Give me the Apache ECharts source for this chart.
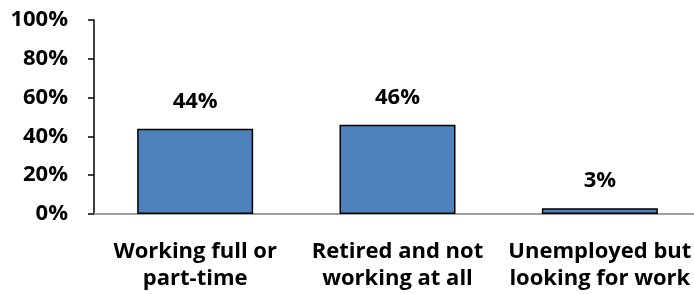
<!DOCTYPE html>
<html>
<head>
<meta charset="utf-8">
<script src="https://cdn.jsdelivr.net/npm/echarts@6/dist/echarts.min.js"></script>
<style>
html,body{margin:0;padding:0;background:#fff;}
#chart{width:694px;height:294px;}
</style>
</head>
<body>
<div id="chart"></div>
<script>
const categories = ['Working full or\npart-time', 'Retired and not\nworking at all', 'Unemployed but\nlooking for work'];
const values = [44, 46, 3];
const yTicks = [0, 20, 40, 60, 80, 100];

const FONT = '"Open Sans", "Liberation Sans", sans-serif';
const chart = echarts.init(document.getElementById('chart'), null, {renderer: 'canvas'});
chart.setOption({
  animation: false,
  grid: {left: 94, width: 607, top: 20, bottom: 80, containLabel: false, outerBoundsMode: 'none'},
  xAxis: {
    type: 'category',
    data: categories,
    axisLine: {lineStyle: {color: '#a0a0a0', width: 2}},
    axisTick: {show: false},
    axisLabel: {
      interval: 0,
      color: '#000',
      fontFamily: FONT,
      fontWeight: 'bold',
      fontSize: 22,
      lineHeight: 27,
      margin: 24
    }
  },
  yAxis: {
    type: 'value',
    min: yTicks[0],
    max: yTicks[yTicks.length - 1],
    interval: 20,
    splitLine: {show: false},
    axisLine: {show: true, lineStyle: {color: '#000', width: 1.5}},
    axisTick: {show: true, length: 6, lineStyle: {color: '#000', width: 1.5}},
    axisLabel: {
      color: '#000',
      fontFamily: FONT,
      fontWeight: 'bold',
      fontSize: 22,
      margin: 26,
      formatter: v => v + '%'
    }
  },
  series: [{
    type: 'bar',
    data: values,
    barWidth: 116,
    itemStyle: {color: '#4F81BD', borderColor: '#000', borderWidth: 1.5},
    label: {
      show: true,
      position: 'top',
      distance: 16,
      color: '#000',
      fontFamily: FONT,
      fontWeight: 'bold',
      fontSize: 22,
      formatter: p => p.value + '%'
    }
  }]
});
</script>
</body>
</html>
